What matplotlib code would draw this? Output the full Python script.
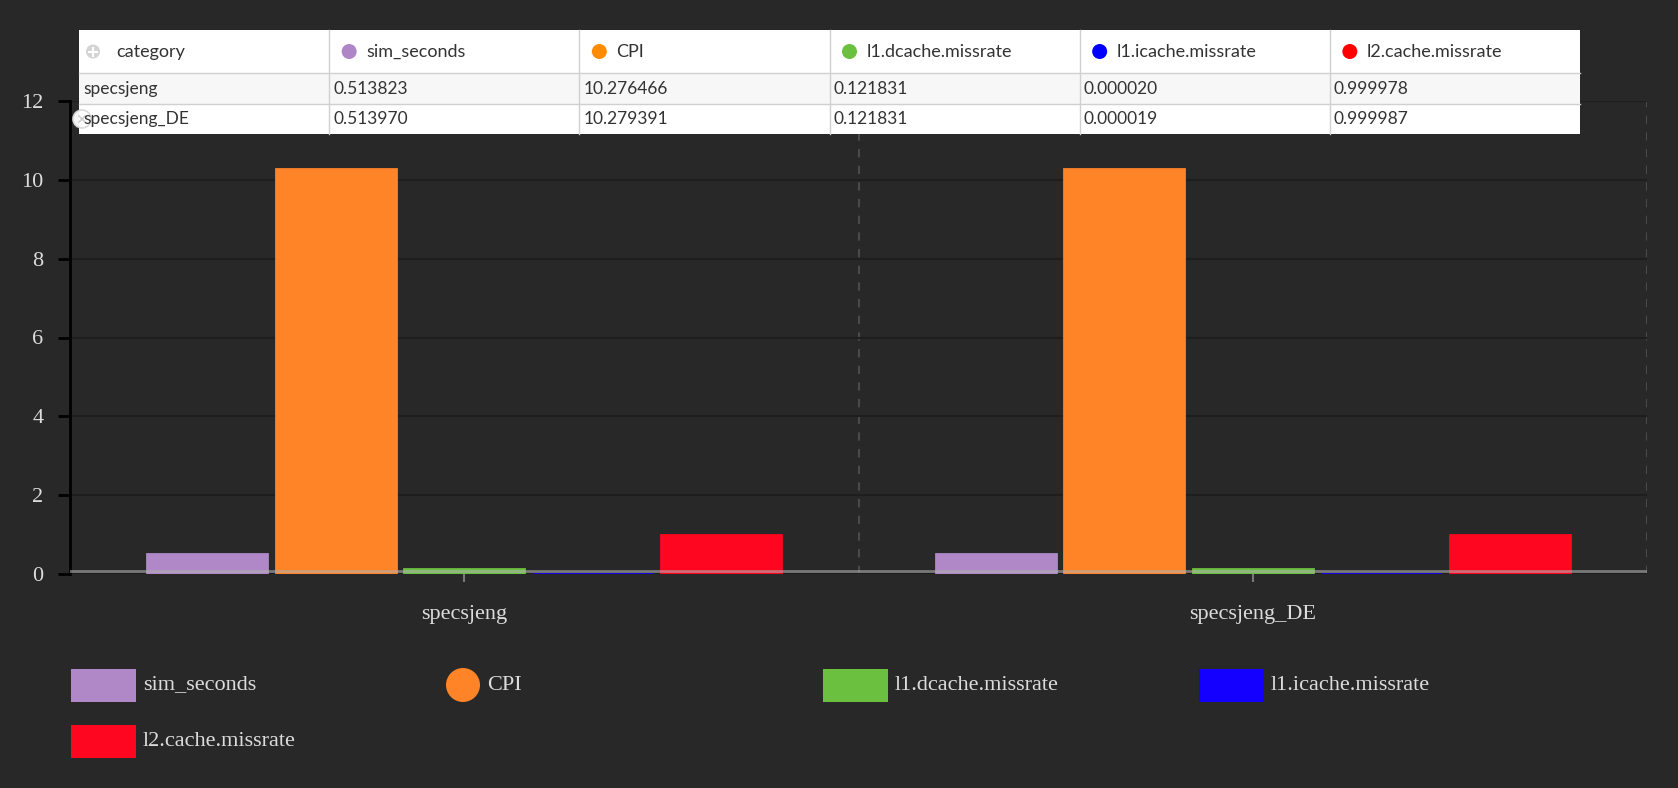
import numpy as np
import matplotlib.pyplot as plt
import matplotlib.transforms as mtransforms
from matplotlib.patches import Rectangle, Circle

# data
categories = ['specsjeng', 'specsjeng_DE']
series_names = ['sim_seconds', 'CPI', 'l1.dcache.missrate', 'l1.icache.missrate', 'l2.cache.missrate']
sim_seconds = [0.513823, 0.513970]
cpi = [10.276466, 10.279391]
l1_dcache_missrate = [0.121831, 0.121831]
l1_icache_missrate = [0.000020, 0.000019]
l2_cache_missrate = [0.999978, 0.999987]

bar_colors = ['#b088c8', '#ff8428', '#6cc040', '#1400ff', '#ff0620']
dot_colors = ['#b085c8', '#ff8c00', '#6cc040', '#0000ff', '#ff0000']
values = [sim_seconds, cpi, l1_dcache_missrate, l1_icache_missrate, l2_cache_missrate]

bg = '#282828'
W, H = 1678, 788

fig = plt.figure(figsize=(W / 100, H / 100), dpi=100, facecolor=bg)
ax = fig.add_axes([70 / W, 1 - 574 / H, (1647 - 70) / W, (574 - 101) / H])
ax.set_facecolor(bg)

x = np.arange(len(categories))
step = 0.163
width = 0.152
for i, (name, vals) in enumerate(zip(series_names, values)):
    ax.bar(x + (i - 2) * step, vals, width, color=bar_colors[i], edgecolor=bar_colors[i],
           linewidth=2, zorder=2, label=name)

# baseline sits a couple of pixels above the bar bottoms in the original
base_tr = mtransforms.offset_copy(ax.get_yaxis_transform(), fig=fig, x=0, y=3, units='dots')
ax.plot([0, 1], [0, 0], transform=base_tr, color='#b0b0b0', alpha=0.6, lw=2, zorder=3)

ax.set_xlim(-0.5, 1.5)
ax.set_ylim(0, 12)
ax.set_yticks(np.arange(0, 13, 2))
ax.grid(axis='y', color='#1e1e1e', lw=1.5, zorder=0)
for xv in [0.5, 1.5]:
    ax.axvline(xv, color='#4a4a4a', lw=1.5, ls=(0, (4, 4)), zorder=1)

for s in ['top', 'right', 'bottom']:
    ax.spines[s].set_visible(False)
ax.spines['left'].set_color('black')
ax.spines['left'].set_linewidth(2)

serif = 'Liberation Serif'
ax.set_xticks(x)
ax.set_xticklabels(categories, family=serif, fontsize=16, color='#dcdcdc')
ax.set_yticklabels([str(v) for v in range(0, 13, 2)], family=serif, fontsize=16, color='#dcdcdc')
ax.tick_params(axis='y', colors='black', length=9, width=2, pad=10, labelcolor='#dcdcdc')
ax.tick_params(axis='x', colors='#777777', length=6, width=1.5, pad=16, labelcolor='#dcdcdc')

# overlay in pixel units for the table and legend
ov = fig.add_axes([0, 0, 1, 1], zorder=5)
ov.set_xlim(0, W)
ov.set_ylim(H, 0)
ov.axis('off')

# table
tx0, tx1 = 79, 1580
row_edges = [30, 73, 104, 134]
ncols = len(series_names) + 1
cw = (tx1 - tx0) / ncols
row_bg = ['#ffffff', '#f7f7f7', '#ffffff']
for r in range(3):
    ov.add_patch(Rectangle((tx0, row_edges[r]), tx1 - tx0, row_edges[r + 1] - row_edges[r],
                           facecolor=row_bg[r], edgecolor='none'))
for r in range(1, 3):
    ov.plot([tx0, tx1], [row_edges[r], row_edges[r]], color='#d0d0d0', lw=1)
for c in range(1, ncols):
    ov.plot([tx0 + c * cw] * 2, [row_edges[0], row_edges[3]], color='#d0d0d0', lw=1)

lato = 'Lato'
txt_color = '#333333'
hy = (row_edges[0] + row_edges[1]) / 2
headers = ['category'] + series_names
for c, name in enumerate(headers):
    cx = tx0 + c * cw
    if c == 0:
        ov.add_patch(Circle((cx + 14, hy), 7, facecolor='#d4d4d4', edgecolor='none'))
        ov.plot([cx + 10, cx + 18], [hy, hy], color='white', lw=1.5)
        ov.plot([cx + 14, cx + 14], [hy - 4, hy + 4], color='white', lw=1.5)
    else:
        ov.add_patch(Circle((cx + 20, hy), 7.5, facecolor=dot_colors[c - 1], edgecolor='none'))
    ov.text(cx + 37, hy, name, family=lato, fontsize=13, color=txt_color, va='center')

for r, cat in enumerate(categories):
    ry = (row_edges[r + 1] + row_edges[r + 2]) / 2
    ov.text(tx0 + 4, ry, cat, family=lato, fontsize=12.5, color=txt_color, va='center')
    for c, vals in enumerate(values):
        ov.text(tx0 + (c + 1) * cw + 4, ry, f'{vals[r]:.6f}', family=lato, fontsize=12.5,
                color=txt_color, va='center')

# half hidden close button over the second row
ov.add_patch(Circle((82, 119), 9, facecolor='white', edgecolor='#d8d8d8', lw=1.2, alpha=0.95))
ov.plot([79, 85], [116, 122], color='#d0d0d0', lw=1.2)
ov.plot([79, 85], [122, 116], color='#d0d0d0', lw=1.2)

# legend
leg_x0, leg_dx = 71, 376
leg_y = [685, 741]
for i, name in enumerate(series_names):
    lx = leg_x0 + (i % 4) * leg_dx
    ly = leg_y[i // 4]
    if name == 'CPI':
        ov.add_patch(Circle((lx + 16, ly), 17, facecolor=bar_colors[i], edgecolor='none'))
        tx = lx + 40
    else:
        ov.add_patch(Rectangle((lx, ly - 16.5), 65, 33, facecolor=bar_colors[i], edgecolor='none'))
        tx = lx + 72
    ov.text(tx, ly, name, family=serif, fontsize=16, color='#dcdcdc', va='center')

fig.savefig('out.png', dpi=100, facecolor=bg)
